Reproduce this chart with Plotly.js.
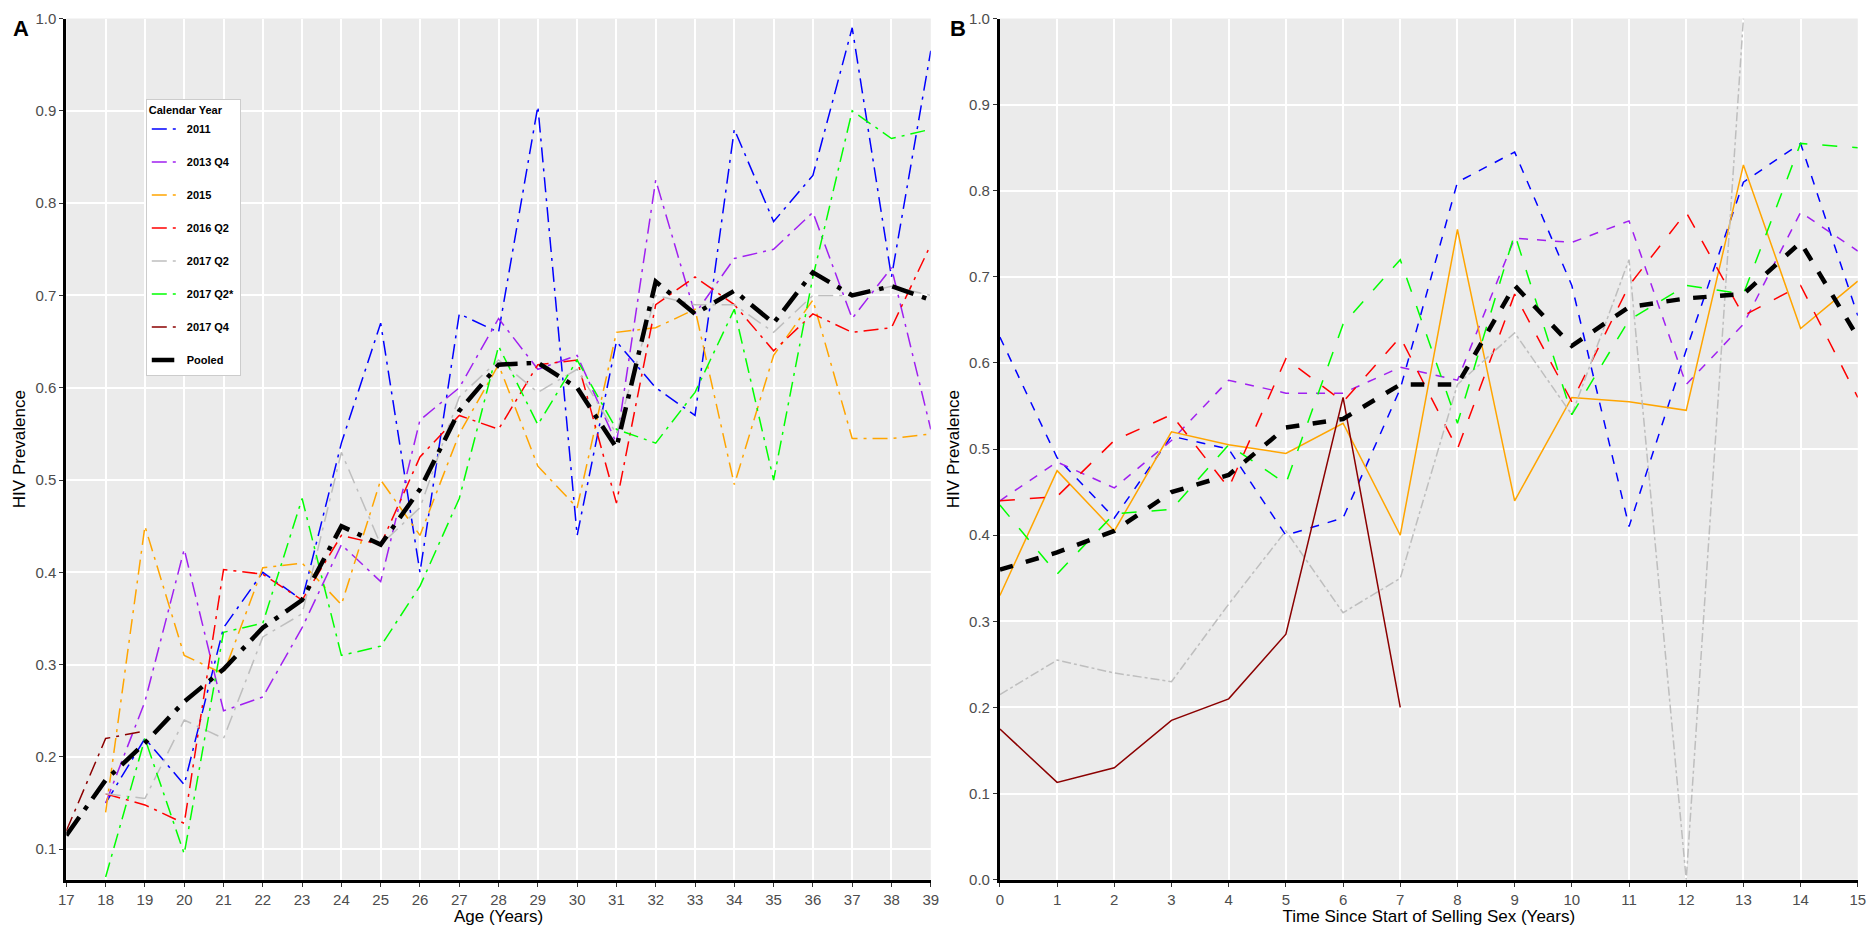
<!DOCTYPE html>
<html>
<head>
<meta charset="utf-8">
<script src="https://cdn.plot.ly/plotly-3.0.1.min.js"></script>
<style>body{margin:0;background:#fff}#plot{width:1869px;height:926px}</style>
</head>
<body>
<div id="plot"></div>
<script>
// Panel A: prevalence by age
var ageA = [17,18,19,20,21,22,23,24,25,26,27,28,29,30,31,32,33,34,35,36,37,38,39]
var ageB = [18,19,20,21,22,23,24,25,26,27,28,29,30,31,32,33,34,35,36,37,38,39]
var a2011 = [0.15,0.22,0.17,0.34,0.40,0.37,0.54,0.67,0.40,0.68,0.66,0.905,0.44,0.65,0.60,0.57,0.88,0.78,0.83,0.99,0.72,0.965]
var a2013 = [0.15,0.26,0.425,0.25,0.265,0.34,0.43,0.39,0.565,0.60,0.675,0.62,0.635,0.54,0.825,0.68,0.74,0.75,0.79,0.675,0.73,0.555]
var a2015 = [0.14,0.45,0.31,0.29,0.405,0.41,0.365,0.50,0.44,0.55,0.625,0.515,0.47,0.66,0.665,0.685,0.495,0.635,0.695,0.545,0.545,0.55]
var a2016 = [0.16,0.148,0.128,0.403,0.398,0.37,0.44,0.43,0.525,0.57,0.555,0.625,0.63,0.475,0.69,0.72,0.69,0.64,0.68,0.66,0.665,0.755]
var a2017 = [0.16,0.155,0.24,0.22,0.33,0.355,0.53,0.43,0.47,0.59,0.63,0.595,0.62,0.55,0.70,0.69,0.69,0.66,0.70,0.70,0.71,0.70]
var a2017s = [0.07,0.22,0.095,0.335,0.345,0.48,0.31,0.32,0.385,0.48,0.645,0.56,0.63,0.555,0.54,0.595,0.685,0.50,0.72,0.90,0.87,0.88]
var ageQ4 = [17,18,19]
var a2017q4 = [0.12,0.22,0.228]
var aPooled = [0.115,0.175,0.215,0.26,0.295,0.34,0.37,0.45,0.43,0.49,0.575,0.625,0.627,0.60,0.535,0.715,0.68,0.705,0.67,0.725,0.70,0.71,0.695]

// Panel B: prevalence by time since start of selling sex
var yrs = [0,1,2,3,4,5,6,7,8,9,10,11,12,13,14,15]
var b2011 = [0.63,0.49,0.42,0.515,0.50,0.40,0.42,0.57,0.81,0.845,0.69,0.41,0.615,0.81,0.855,0.655]
var b2013 = [0.44,0.485,0.455,0.51,0.58,0.565,0.565,0.595,0.58,0.745,0.74,0.765,0.575,0.645,0.775,0.73]
var b2015 = [0.33,0.475,0.405,0.52,0.505,0.495,0.53,0.40,0.755,0.44,0.56,0.555,0.545,0.83,0.64,0.695]
var b2016 = [0.44,0.445,0.51,0.54,0.455,0.605,0.555,0.63,0.50,0.68,0.555,0.69,0.775,0.655,0.69,0.56]
var yrsG = [0,1,2,3,4,5,6,7,8,9,10,11,12,13]
var b2017 = [0.215,0.255,0.24,0.23,0.32,0.405,0.31,0.35,0.575,0.635,0.54,0.72,0.0,1.0]
var b2017s = [0.435,0.355,0.425,0.43,0.505,0.46,0.645,0.72,0.53,0.75,0.54,0.65,0.69,0.68,0.855,0.85]
var yrsQ4 = [0,1,2,3,4,5,6,7]
var b2017q4 = [0.175,0.113,0.13,0.185,0.21,0.285,0.56,0.20]
var bPooled = [0.36,0.38,0.405,0.45,0.47,0.525,0.535,0.575,0.575,0.69,0.62,0.665,0.675,0.68,0.74,0.63]

var names = ['2011','2013 Q4','2015','2016 Q2','2017 Q2','2017 Q2*','2017 Q4','Pooled']
var colors = ['#0000ff','#a020f0','#ffa500','#ff0000','#bebebe','#00ff00','#8b0000','#000000']
var dashB = ['dash','dash','solid','longdash','dashdot','longdash','solid','dash']

var aX = [ageB,ageB,ageB,ageB,ageB,ageB,ageQ4,ageA]
var aY = [a2011,a2013,a2015,a2016,a2017,a2017s,a2017q4,aPooled]
var bX = [yrs,yrs,yrs,yrs,yrsG,yrs,yrsQ4,yrs]
var bY = [b2011,b2013,b2015,b2016,b2017,b2017s,b2017q4,bPooled]

var data = []
names.forEach(function (n, i) {
    var w = i == 7 ? 4.5 : 1.5
    data.push({x: aX[i], y: aY[i], name: n, legendgroup: n, type: 'scatter', mode: 'lines',
        line: {color: colors[i], width: w, dash: 'longdashdot'}, xaxis: 'x', yaxis: 'y'})
    data.push({x: bX[i], y: bY[i], name: n, legendgroup: n, showlegend: false, type: 'scatter', mode: 'lines',
        line: {color: colors[i], width: w, dash: dashB[i]}, xaxis: 'x2', yaxis: 'y2'})
})

function xax(dom, range, title) {
    return {domain: dom, range: range, dtick: 1, showgrid: true, gridcolor: '#fff', gridwidth: 1.5,
        zeroline: false, showline: true, linecolor: '#000', linewidth: 3, ticks: 'outside', ticklen: 4,
        tickcolor: '#333', tickfont: {size: 15, color: '#4d4d4d'},
        title: {text: title, font: {size: 17, color: '#000'}, standoff: 2}}
}
function yax(range, anchor) {
    return {domain: [0.05, 0.98], range: range, dtick: 0.1, tickformat: '.1f', anchor: anchor,
        showgrid: true, gridcolor: '#fff', gridwidth: 1.5, zeroline: false, showline: true,
        linecolor: '#000', linewidth: 3, ticks: 'outside', ticklen: 4, tickcolor: '#333',
        tickfont: {size: 15, color: '#4d4d4d'},
        title: {text: 'HIV Prevalence', font: {size: 17, color: '#000'}, standoff: 6}}
}

var layout = {
    width: 1869, height: 926,
    margin: {l: 0, r: 0, t: 0, b: 0},
    paper_bgcolor: '#fff', plot_bgcolor: '#ebebeb',
    font: {family: 'Liberation Sans, Arial, sans-serif'},
    xaxis: xax([0.0355, 0.498], [17, 39], 'Age (Years)'),
    yaxis: yax([0.067, 1.0], 'x'),
    xaxis2: xax([0.535, 0.994], [0, 15], 'Time Since Start of Selling Sex (Years)'),
    yaxis2: yax([0, 1.0], 'x2'),
    showlegend: true,
    legend: {x: 0.078, y: 0.893, xanchor: 'left', yanchor: 'top', bgcolor: '#fff',
        bordercolor: '#ccc', borderwidth: 1, tracegroupgap: 14,
        font: {size: 11, color: '#000', weight: 'bold'},
        title: {text: 'Calendar Year', font: {size: 11, weight: 'bold'}}},
    annotations: [
        {text: 'A', x: 0.006, y: 0.985, xref: 'paper', yref: 'paper', xanchor: 'left', yanchor: 'top',
            showarrow: false, font: {size: 22, color: '#000', weight: 'bold'}},
        {text: 'B', x: 0.507, y: 0.985, xref: 'paper', yref: 'paper', xanchor: 'left', yanchor: 'top',
            showarrow: false, font: {size: 22, color: '#000', weight: 'bold'}}
    ]
}

Plotly.newPlot('plot', data, layout, {displayModeBar: false})
</script>
</body>
</html>
